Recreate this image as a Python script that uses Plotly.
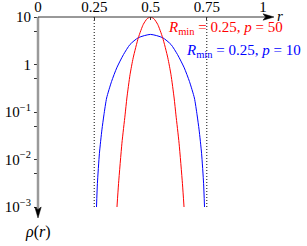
import plotly.graph_objects as go

# ---- data ----
r_red = [0.351, 0.358, 0.373, 0.387, 0.395, 0.409, 0.423, 0.446, 0.468, 0.485, 0.5,
         0.515, 0.532, 0.554, 0.577, 0.591, 0.605, 0.613, 0.627, 0.642, 0.649]
rho_red = [1e-3, 3.1e-3, 2.2e-2, 8.7e-2, 0.197, 0.61, 1.38, 3.67, 7.0, 9.2, 10.0,
           9.2, 7.0, 3.67, 1.38, 0.61, 0.197, 8.7e-2, 2.2e-2, 3.1e-3, 1e-3]

r_blue = [0.26, 0.264, 0.273, 0.284, 0.293, 0.305, 0.327, 0.35, 0.38, 0.409, 0.446, 0.5,
          0.554, 0.591, 0.62, 0.65, 0.673, 0.695, 0.707, 0.716, 0.727, 0.736, 0.74]
rho_blue = [1e-3, 3.1e-3, 1.35e-2, 4.2e-2, 8.7e-2, 0.197, 0.44, 0.85, 1.62, 2.64, 3.67, 4.3,
            3.67, 2.64, 1.62, 0.85, 0.44, 0.197, 8.7e-2, 4.2e-2, 1.35e-2, 3.1e-3, 1e-3]

x_tickvals = [0, 0.25, 0.5, 0.75, 1]
x_ticktext = ["0", "0.25", "0.5", "0.75", "1"]
y_tickvals = [1e-3, 5e-3, 1e-2, 5e-2, 1e-1, 5e-1, 1, 5, 10]
y_ticktext = ["10<sup>−3</sup>", "", "10<sup>−2</sup>", "", "10<sup>−1</sup>", "", "1", "", "10"]
r_min_lines = [0.25, 0.75]
label_red = "<i>R</i><sub>min</sub> = 0.25, <i>p</i> = 50"
label_blue = "<i>R</i><sub>min</sub> = 0.25, <i>p</i> = 10"

FONT = "Liberation Serif"
W, H = 307, 246
ML, MR, MT, MB = 38, 44, 17, 39
PW, PH = W - ML - MR, H - MT - MB

fig = go.Figure()
fig.add_trace(go.Scatter(x=r_blue, y=rho_blue, mode="lines", line=dict(color="#0000ff", width=1, shape="spline", smoothing=0.6),
                         showlegend=False, hoverinfo="skip"))
fig.add_trace(go.Scatter(x=r_red, y=rho_red, mode="lines", line=dict(color="#ff0000", width=1, shape="spline", smoothing=0.6),
                         showlegend=False, hoverinfo="skip"))

shapes = []
for xv in r_min_lines:
    shapes.append(dict(type="line", xref="x", yref="paper", x0=xv, x1=xv, y0=0, y1=1,
                       line=dict(color="#333333", width=1.2, dash="1px,2px"), layer="below"))

def px_x(p):
    return (p - ML) / PW

def px_y(p):
    return (H - MB - p) / PH

# y axis line (gray) with arrow down
shapes.append(dict(type="line", xref="paper", yref="paper", x0=0, x1=0, y0=1, y1=px_y(209),
                   line=dict(color="#9a9a9a", width=2.5)))
tipy = px_y(218)
basey = px_y(207)
hw = 3.2 / PW
shapes.append(dict(type="path", xref="paper", yref="paper",
                   path=f"M 0,{tipy} L {-hw},{basey} L 0,{px_y(209.5)} L {hw},{basey} Z",
                   fillcolor="black", line=dict(color="black", width=0.5)))
# x axis line with arrow right
shapes.append(dict(type="line", xref="paper", yref="paper", x0=0, x1=px_x(265), y0=1, y1=1,
                   line=dict(color="#333333", width=1)))
tipx = px_x(274)
basex = px_x(263)
hh = 3.2 / PH
shapes.append(dict(type="path", xref="paper", yref="paper",
                   path=f"M {tipx},1 L {basex},{1+hh} L {px_x(265.5)},1 L {basex},{1-hh} Z",
                   fillcolor="black", line=dict(color="black", width=0.5)))

annotations = [
    dict(text=label_red, xref="paper", yref="paper", x=px_x(166), y=px_y(28), xanchor="left", yanchor="middle",
         showarrow=False, font=dict(family=FONT, size=15, color="#ff0000")),
    dict(text=label_blue, xref="paper", yref="paper", x=px_x(184), y=px_y(51), xanchor="left", yanchor="middle",
         showarrow=False, font=dict(family=FONT, size=15, color="#0000ff")),
    dict(text="<i>r</i>", xref="paper", yref="paper", x=px_x(280), y=px_y(16), xanchor="center", yanchor="middle",
         showarrow=False, font=dict(family=FONT, size=15, color="black")),
    dict(text="<i>ρ</i>(<i>r</i>)", xref="paper", yref="paper", x=0, y=px_y(232), xanchor="center", yanchor="middle",
         showarrow=False, font=dict(family=FONT, size=16, color="black")),
]

fig.update_layout(
    width=W, height=H,
    margin=dict(l=ML, r=MR, t=MT, b=MB, pad=0, autoexpand=False),
    paper_bgcolor="white", plot_bgcolor="white",
    shapes=shapes, annotations=annotations,
    xaxis=dict(range=[0, 1], side="top", tickvals=x_tickvals, ticktext=x_ticktext, automargin=False,
               ticks="inside", ticklen=3, tickcolor="#333333", showgrid=False, zeroline=False, showline=False,
               ticklabelstandoff=1,
               tickfont=dict(family=FONT, size=15, color="black")),
    yaxis=dict(type="log", range=[-3, 1], tickvals=y_tickvals, ticktext=y_ticktext, automargin=False,
               ticks="outside", ticklen=3, tickcolor="#333333", showgrid=False, zeroline=False, showline=False,
               tickfont=dict(family=FONT, size=15, color="black")),
)

fig.write_html("out.html", config={"displayModeBar": False},
               post_script="document.body.style.margin='0px';")
